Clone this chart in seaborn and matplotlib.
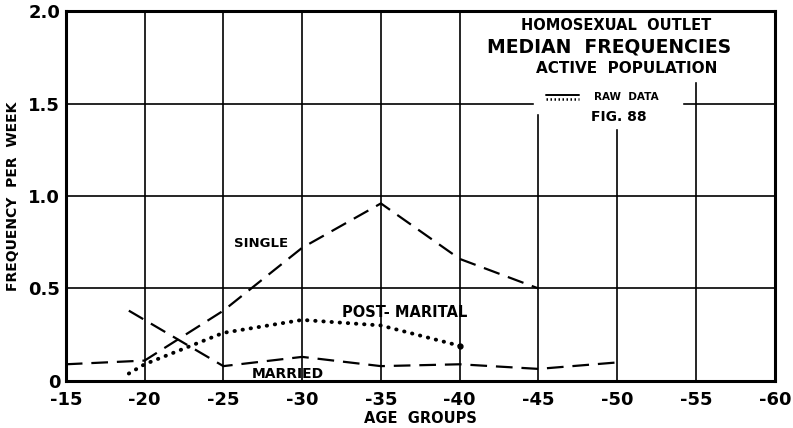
import numpy as np
import pandas as pd
import seaborn as sns
import matplotlib.pyplot as plt

# age groups (plotted as negative numbers, as on the original chart)
single_age = [-15, -20, -25, -30, -35, -40, -45]
single_freq = [0.09, 0.11, 0.38, 0.72, 0.96, 0.66, 0.50]

married_age = [-19, -25, -30, -35, -40, -45, -50]
married_freq = [0.38, 0.08, 0.13, 0.08, 0.09, 0.065, 0.10]

postmar_age = [-19, -20, -25, -30, -35, -40]
postmar_freq = [0.04, 0.09, 0.26, 0.33, 0.30, 0.19]

xticks = [-15, -20, -25, -30, -35, -40, -45, -50, -55, -60]
yticks = [0, 0.5, 1.0, 1.5, 2.0]
ytick_labels = ["0", "0.5", "1.0", "1.5", "2.0"]

sns.set_style("white")
plt.rcParams["font.family"] = ["DejaVu Sans"]
plt.rcParams["axes.unicode_minus"] = False
for k in ["text.color", "axes.labelcolor", "xtick.color", "ytick.color"]:
    plt.rcParams[k] = "black"

fig = plt.figure(figsize=(7.93, 4.28), dpi=100)
ax = fig.add_axes([0.083, 0.11, 0.894, 0.864])

df_s = pd.DataFrame({"age": single_age, "freq": single_freq})
df_m = pd.DataFrame({"age": married_age, "freq": married_freq})
df_p = pd.DataFrame({"age": postmar_age, "freq": postmar_freq})

sns.lineplot(data=df_s, x="age", y="freq", ax=ax, color="black", lw=1.6,
             sort=False, zorder=3).lines[-1].set_dashes([7.5, 4])
sns.lineplot(data=df_m, x="age", y="freq", ax=ax, color="black", lw=1.6,
             sort=False, zorder=3).lines[-1].set_dashes([7.5, 4])
line = sns.lineplot(data=df_p, x="age", y="freq", ax=ax, color="black", lw=2.8,
                    sort=False, zorder=3).lines[-1]
line.set_dashes([0.1, 2.0])
line.set_dash_capstyle("round")
ax.plot(postmar_age[-1], postmar_freq[-1], "o", color="black", ms=3.5, zorder=4)

ax.set_xlim(-15, -60)
ax.set_ylim(0, 2.0)
ax.set_xticks(xticks)
ax.set_xticklabels([str(v) for v in xticks], fontsize=13, fontweight="bold")
ax.set_yticks(yticks)
ax.set_yticklabels(ytick_labels, fontsize=13, fontweight="bold")
ax.tick_params(axis="x", length=0, pad=7)
ax.tick_params(axis="y", length=0, pad=4)
ax.grid(True, color="black", lw=1.2)
ax.set_axisbelow(True)
for s in ax.spines.values():
    s.set_color("black")
    s.set_linewidth(2.2)

ax.set_xlabel("AGE  GROUPS", fontsize=10.5, fontweight="bold", labelpad=2)
ax.set_ylabel("FREQUENCY  PER  WEEK", fontsize=10, fontweight="bold", labelpad=6)

# white area behind the title block
ax.fill_between([-41.0, -59.7], 1.62, 1.99, color="white", zorder=1.5)
ax.fill_between([-44.7, -54.1], 1.45, 1.63, color="white", zorder=1.5)
ax.fill_between([-48.0, -52.0], 1.37, 1.46, color="white", zorder=1.5)

ax.text(-49.9, 1.92, "HOMOSEXUAL  OUTLET", fontsize=10.5, fontweight="bold",
        ha="center", va="center", zorder=5)
ax.text(-49.5, 1.805, "MEDIAN  FREQUENCIES", fontsize=13.5, fontweight="black",
        ha="center", va="center", zorder=5)
ax.text(-50.6, 1.69, "ACTIVE  POPULATION", fontsize=11, fontweight="bold",
        ha="center", va="center", zorder=5)
ax.plot([-45.5, -47.6], [1.545, 1.545], color="black", lw=1.4, zorder=5)
ax.plot([-45.5, -47.6], [1.525, 1.525], color="black", lw=1.8, ls=(0, (0.6, 1.0)), zorder=5)
ax.text(-48.5, 1.535, "RAW  DATA", fontsize=7.5, fontweight="bold",
        ha="left", va="center", zorder=5)
ax.text(-50.1, 1.43, "FIG. 88", fontsize=10, fontweight="bold",
        ha="center", va="center", zorder=5)

# series labels
ax.text(-27.4, 0.745, "SINGLE", fontsize=9.5, fontweight="bold", ha="center", va="center")
ax.text(-36.5, 0.37, "POST- MARITAL", fontsize=10.5, fontweight="bold", ha="center", va="center")
ax.text(-29.1, 0.037, "MARRIED", fontsize=10, fontweight="bold", ha="center", va="center")

fig.savefig("out.png", dpi=100)
